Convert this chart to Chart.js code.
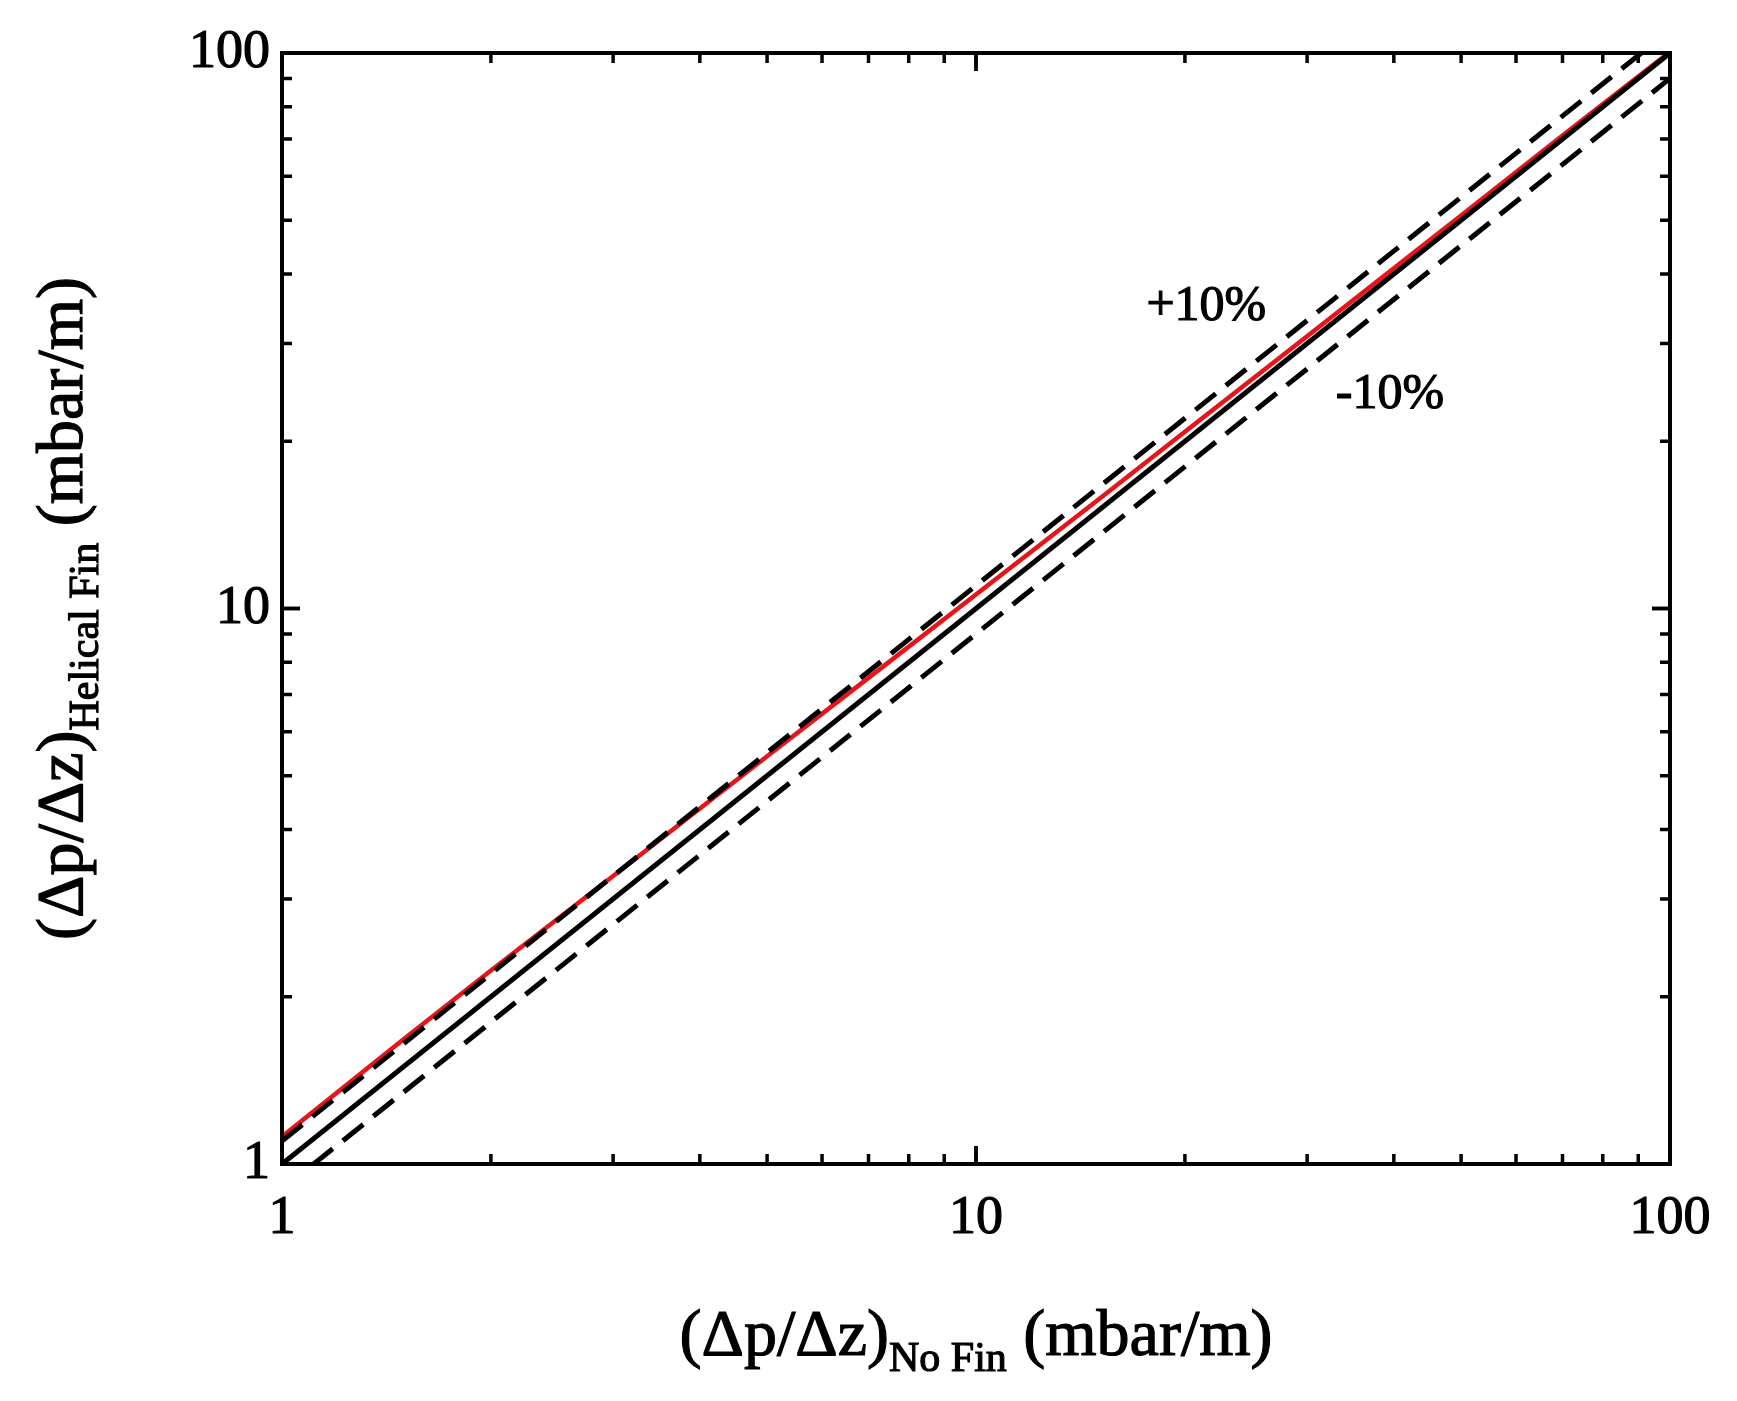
<!DOCTYPE html>
<html><head><meta charset="utf-8">
<script src="https://cdn.jsdelivr.net/npm/chart.js@4/dist/chart.umd.min.js"></script>
<style>html,body{margin:0;padding:0;background:#fff}#c{display:block}</style>
</head><body>
<canvas id="c" width="1737" height="1401" style="width:1737px;height:1401px"></canvas>
<script>
const refX = [1, 100];
const refY = [1, 100];
const plus10Y = [1.1, 110];
const minus10Y = [0.9, 90];
const redX = [1, 1.5, 2, 3, 5, 7, 10, 15, 20, 30, 50, 70, 100];
const redY = [1.12, 1.68, 2.23, 3.3, 5.42, 7.5, 10.6, 15.7, 20.8, 30.9, 51, 71, 100.5];
const majorTicks = [1, 10, 100];
const annotations = [{text:'+10%', x:17.6, y:33}, {text:'-10%', x:33, y:23}];

const pts = (xs, ys) => xs.map((x, i) => ({x, y: ys[i]}));
const FONT = '"Liberation Serif","DejaVu Serif",serif';

const deco = {
  id: 'deco',
  afterDraw(chart) {
    const {ctx, chartArea: a, scales: {x, y}} = chart;
    ctx.save();
    ctx.strokeStyle = '#000'; ctx.lineWidth = 4;
    ctx.strokeRect(a.left, a.top, a.right - a.left, a.bottom - a.top);
    const ticks = [];
    for (let d = 1; d < 100; d *= 10) for (let m = 1; m <= 10; m++) ticks.push(d * m);
    ctx.lineWidth = 3.5;
    ticks.forEach(v => {
      const major = majorTicks.includes(v);
      const L = major ? 18 : 10;
      const px = x.getPixelForValue(v), py = y.getPixelForValue(v);
      ctx.beginPath();
      ctx.moveTo(px, a.bottom); ctx.lineTo(px, a.bottom - L);
      ctx.moveTo(px, a.top); ctx.lineTo(px, a.top + L);
      ctx.moveTo(a.left, py); ctx.lineTo(a.left + L, py);
      ctx.moveTo(a.right, py); ctx.lineTo(a.right - L, py);
      ctx.stroke();
    });
    ctx.fillStyle = '#000'; ctx.lineWidth = 1.2;
    function txt(t, px, py) { ctx.fillText(t, px, py); ctx.strokeText(t, px, py); }
    ctx.font = '54px ' + FONT;
    ctx.textAlign = 'center'; ctx.textBaseline = 'top';
    majorTicks.forEach(v => txt(String(v), x.getPixelForValue(v), a.bottom + 28));
    ctx.textAlign = 'right'; ctx.textBaseline = 'middle';
    majorTicks.forEach(v => txt(String(v), a.left - 12, y.getPixelForValue(v)));
    ctx.font = '50px ' + FONT;
    ctx.textAlign = 'left'; ctx.textBaseline = 'alphabetic';
    annotations.forEach(t => txt(t.text, x.getPixelForValue(t.x), y.getPixelForValue(t.y)));
    function title(parts, cx, cy, rot) {
      ctx.save(); ctx.translate(cx, cy); ctx.rotate(rot);
      let w = 0;
      parts.forEach(p => { ctx.font = p.s + 'px ' + FONT; w += ctx.measureText(p.t).width; });
      let xx = -w / 2;
      ctx.textAlign = 'left'; ctx.textBaseline = 'alphabetic';
      parts.forEach(p => { ctx.font = p.s + 'px ' + FONT; txt(p.t, xx, p.dy); xx += ctx.measureText(p.t).width; });
      ctx.restore();
    }
    title([{t:'(Δp/Δz)', s:66, dy:0}, {t:'No Fin', s:42, dy:16}, {t:' (mbar/m)', s:66, dy:0}],
      (a.left + a.right) / 2, 1355, 0);
    title([{t:'(Δp/Δz)', s:66, dy:0}, {t:'Helical Fin', s:42, dy:16}, {t:' (mbar/m)', s:66, dy:0}],
      82, (a.top + a.bottom) / 2, -Math.PI / 2);
    ctx.restore();
  }
};

new Chart(document.getElementById('c'), {
  type: 'scatter',
  data: { datasets: [
    {data: pts(refX, plus10Y), borderColor:'#000', borderWidth:5, borderDash:[26,13], showLine:true, pointRadius:0},
    {data: pts(refX, minus10Y), borderColor:'#000', borderWidth:5, borderDash:[26,13], showLine:true, pointRadius:0},
    {data: pts(refX, refY), borderColor:'#000', borderWidth:5, showLine:true, pointRadius:0},
    {data: pts(redX, redY), borderColor:'#e8141a', borderWidth:4.5, showLine:true, pointRadius:0}
  ]},
  options: {
    responsive:false, animation:false, devicePixelRatio:1,
    layout:{padding:{top:53, right:67, left:0, bottom:0}},
    plugins:{legend:{display:false}, tooltip:{enabled:false}},
    scales:{
      x:{type:'logarithmic', min:1, max:100, grid:{display:false}, border:{display:false},
         ticks:{display:false}, afterFit(s){s.height = 237;}},
      y:{type:'logarithmic', min:1, max:100, grid:{display:false}, border:{display:false},
         ticks:{display:false}, afterFit(s){s.width = 282;}}
    }
  },
  plugins:[deco]
});
</script>
</body></html>
